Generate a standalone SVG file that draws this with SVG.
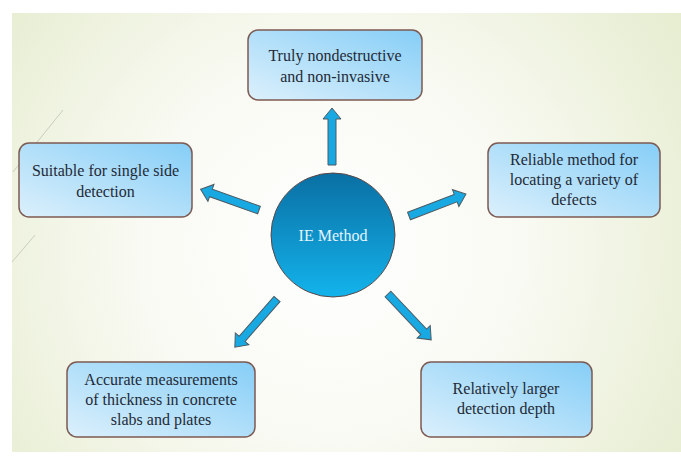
<svg xmlns="http://www.w3.org/2000/svg" width="681" height="469" viewBox="0 0 681 469">
<defs>
<radialGradient id="bg" cx="330" cy="250" r="420" gradientUnits="userSpaceOnUse">
<stop offset="0" stop-color="#ffffff"/>
<stop offset="0.45" stop-color="#f9faf3"/>
<stop offset="1" stop-color="#e6edd0"/>
</radialGradient>
<linearGradient id="box" x1="0" y1="1" x2="1" y2="0">
<stop offset="0" stop-color="#dcf0fc"/>
<stop offset="1" stop-color="#86cef7"/>
</linearGradient>
<linearGradient id="circ" x1="0" y1="0" x2="0" y2="1">
<stop offset="0" stop-color="#0a6fa3"/>
<stop offset="1" stop-color="#13b3ec"/>
</linearGradient>
</defs>
<style>
.box{fill:url(#box);stroke:#7d5a52;stroke-width:1.5}
.t{font-size:16px;fill:#1f2a36;text-anchor:middle}
.a{fill:#18a8e2;stroke:#4d5b62;stroke-width:1;stroke-linejoin:miter}
.deco{stroke:#c9cdb9;stroke-width:1;fill:none}
</style>
<rect x="0" y="0" width="681" height="469" fill="#ffffff"/>
<rect x="12" y="13" width="669" height="439" fill="url(#bg)"/>
<line class="deco" x1="63" y1="110" x2="13" y2="172"/>
<line class="deco" x1="35" y1="235" x2="12" y2="262"/>

<g id="connectors">
<polygon class="a" transform="translate(332,165) rotate(-90)" points="0,-4 46,-4 46,-9 57,0 46,9 46,4 0,4"/>
<polygon class="a" transform="translate(259,210) rotate(199.6)" points="0,-4 51,-4 51,-9 62,0 51,9 51,4 0,4"/>
<polygon class="a" transform="translate(409,216) rotate(-21)" points="0,-4 50,-4 50,-9 61,0 50,9 50,4 0,4"/>
<polygon class="a" transform="translate(277,299) rotate(131.2)" points="0,-4 53,-4 53,-9 64,0 53,9 53,4 0,4"/>
<polygon class="a" transform="translate(388,294) rotate(46.7)" points="0,-4 52,-4 52,-9 63,0 52,9 52,4 0,4"/>
</g>

<g font-family="'Liberation Serif', 'Times New Roman', Times, 'DejaVu Serif', serif">
<g id="center">
<circle cx="333" cy="235" r="62" fill="url(#circ)" stroke="#5a4646" stroke-width="1"/>
<text class="t" x="333" y="241" fill="#e4f5ff" style="fill:#e4f5ff">IE Method</text>
</g>

<g id="top">
<rect class="box" x="248" y="30" width="174" height="70" rx="10"/>
<text class="t" x="335" y="61">Truly nondestructive</text>
<text class="t" x="335" y="82">and non-invasive</text>
</g>

<g id="left">
<rect class="box" x="19" y="143" width="173" height="74" rx="10"/>
<text class="t" x="105.5" y="176">Suitable for single side</text>
<text class="t" x="105.5" y="197">detection</text>
</g>

<g id="right">
<rect class="box" x="488" y="143" width="172" height="74" rx="10"/>
<text class="t" x="574" y="165">Reliable method for</text>
<text class="t" x="574" y="185">locating a variety of</text>
<text class="t" x="574" y="205">defects</text>
</g>

<g id="bottomleft">
<rect class="box" x="67" y="362" width="188" height="75" rx="10"/>
<text class="t" x="161" y="385">Accurate measurements</text>
<text class="t" x="161" y="405">of thickness in concrete</text>
<text class="t" x="161" y="425">slabs and plates</text>
</g>

<g id="bottomright">
<rect class="box" x="421" y="362" width="171" height="75" rx="10"/>
<text class="t" x="506" y="394">Relatively larger</text>
<text class="t" x="506" y="414">detection depth</text>
</g>
</g>
</svg>
